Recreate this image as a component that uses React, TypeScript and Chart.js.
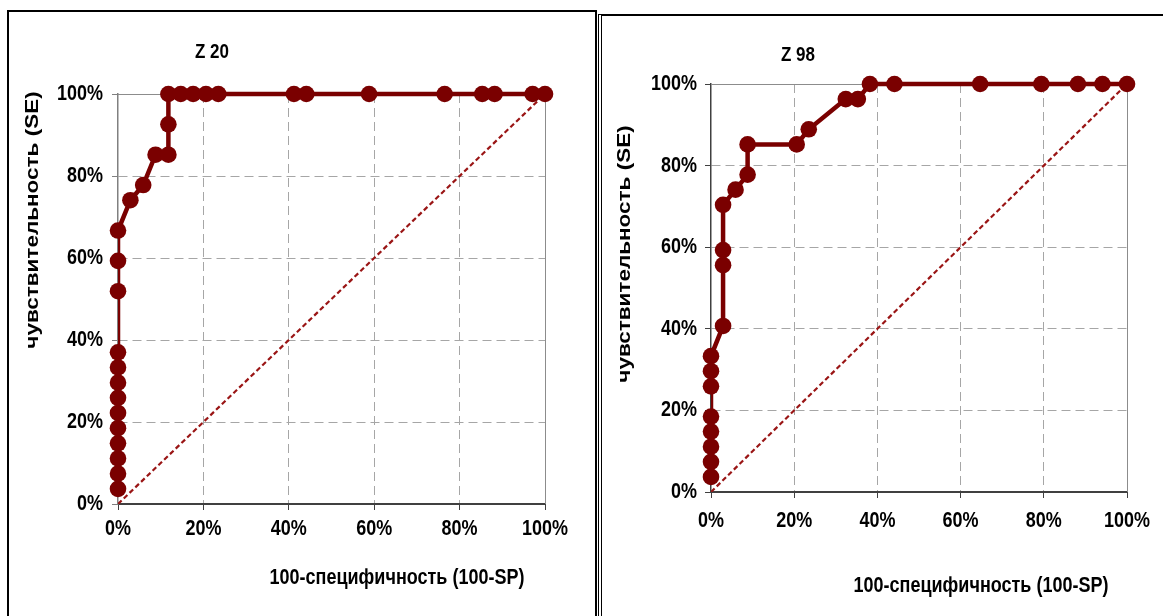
import React, { useEffect, useRef } from "react";
import { Chart, registerables } from "chart.js";

Chart.register(...registerables);

// Axis ticks (percent)
const tickValues = [0, 20, 40, 60, 80, 100];
// Reference diagonal (chance line)
const chanceLine = [0, 100];

// Z 20: 1 - specificity (%) and sensitivity (%)
const z20Fpr = [0, 0, 0, 0, 0, 0, 0, 0, 0, 0, 0, 0, 0, 2.9, 5.9, 8.8, 11.8, 11.8, 11.8, 14.7, 17.6, 20.6, 23.5, 41.2, 44.1, 58.8, 76.5, 85.3, 88.2, 97.1, 100];
const z20Tpr = [3.7, 7.4, 11.1, 14.8, 18.5, 22.2, 25.9, 29.6, 33.3, 37.0, 51.9, 59.3, 66.7, 74.1, 77.8, 85.2, 85.2, 92.6, 100, 100, 100, 100, 100, 100, 100, 100, 100, 100, 100, 100, 100];

// Z 98: 1 - specificity (%) and sensitivity (%)
const z98Fpr = [0, 0, 0, 0, 0, 0, 0, 0, 2.9, 2.9, 2.9, 2.9, 5.9, 8.8, 8.8, 20.6, 23.5, 32.4, 35.3, 38.2, 44.1, 64.7, 79.4, 88.2, 94.1, 100];
const z98Tpr = [3.7, 7.4, 11.1, 14.8, 18.5, 25.9, 29.6, 33.3, 40.7, 55.6, 59.3, 70.4, 74.1, 77.8, 85.2, 85.2, 88.9, 96.3, 96.3, 100, 100, 100, 100, 100, 100, 100];

const FONT = "'Liberation Sans', Arial, sans-serif";
const ROC_COLOR = "#7a0000";
const CHANCE_COLOR = "#9a1515";
const GRID_COLOR = "#a6a6a6";
const TEXT_STRETCH = 1.2;

type Layout = {
  width: number;
  height: number;
  padTop: number;
  padRight: number;
  padBottom: number;
  yAxisWidth: number;
  xAxisHeight: number;
  yAxisColor: string;
  xLabelOffset: number;
  yLabelGap: number;
  title: string;
  titleX: number;
  titleY: number;
  xTitleX: number;
  xTitleY: number;
  yTitleX: number;
  yTitleY: number;
};

function tallText(ctx: CanvasRenderingContext2D, text: string, x: number, y: number) {
  ctx.save();
  ctx.translate(x, y);
  ctx.scale(1, TEXT_STRETCH);
  ctx.fillText(text, 0, 0);
  ctx.restore();
}

// Draws the plot frame (top/right), tick labels and the titles.
const panelDecor = {
  id: "panelDecor",
  beforeDatasetsDraw(chart: any) {
    const { ctx, chartArea: a } = chart;
    ctx.save();
    ctx.strokeStyle = "#8c8c8c";
    ctx.lineWidth = 1;
    ctx.beginPath();
    ctx.moveTo(a.left, Math.round(a.top) + 0.5);
    ctx.lineTo(Math.round(a.right) + 0.5, Math.round(a.top) + 0.5);
    ctx.lineTo(Math.round(a.right) + 0.5, a.bottom);
    ctx.stroke();
    ctx.restore();
  },
  afterDraw(chart: any, _args: any, opts: any) {
    const { ctx, chartArea: a } = chart;
    const xs = chart.scales.x;
    const ys = chart.scales.y;
    ctx.save();
    ctx.fillStyle = "#000";
    ctx.textBaseline = "middle";

    // tick labels
    ctx.font = `bold 18px ${FONT}`;
    ctx.textAlign = "center";
    tickValues.forEach((v) => tallText(ctx, `${v}%`, xs.getPixelForValue(v), a.bottom + opts.xLabelOffset));
    ctx.textAlign = "right";
    tickValues.forEach((v) => tallText(ctx, `${v}%`, a.left - opts.yLabelGap, ys.getPixelForValue(v)));

    // titles
    ctx.textAlign = "center";
    ctx.font = `bold 17px ${FONT}`;
    tallText(ctx, opts.title, opts.titleX, opts.titleY);
    ctx.font = `bold 18px ${FONT}`;
    tallText(ctx, opts.xTitle, opts.xTitleX, opts.xTitleY);
    ctx.translate(opts.yTitleX, opts.yTitleY);
    ctx.rotate(-Math.PI / 2);
    ctx.scale(TEXT_STRETCH + 0.05, 1);
    ctx.fillText(opts.yTitle, 0, 0);
    ctx.restore();
  },
};

function axis(L: Layout, isX: boolean) {
  return {
    type: "linear" as const,
    min: 0,
    max: 100,
    afterBuildTicks: (scale: any) => {
      scale.ticks = tickValues.map((v) => ({ value: v }));
    },
    afterFit: (scale: any) => {
      if (isX) scale.height = L.xAxisHeight;
      else scale.width = L.yAxisWidth;
    },
    ticks: { display: false },
    grid: {
      color: (c: any) =>
        c.tick && (c.tick.value === 0 || c.tick.value === 100) ? "rgba(0,0,0,0)" : GRID_COLOR,
      lineWidth: 1,
      tickLength: 6,
      tickColor: isX ? "#404040" : L.yAxisColor,
      tickWidth: 1,
      drawTicks: true,
    },
    border: {
      display: true,
      color: isX ? "#404040" : L.yAxisColor,
      width: isX ? 2 : 1.5,
      dash: [9, 5],
    },
  };
}

function RocChart({ fpr, tpr, L }: { fpr: number[]; tpr: number[]; L: Layout }) {
  const ref = useRef<HTMLCanvasElement | null>(null);

  useEffect(() => {
    if (!ref.current) return;
    const roc = fpr.map((x, i) => ({ x, y: tpr[i] }));
    const chance = chanceLine.map((v) => ({ x: v, y: v }));
    const chart = new Chart(ref.current, {
      type: "line",
      data: {
        datasets: [
          {
            data: roc,
            showLine: false,
            pointRadius: 8.3,
            pointHoverRadius: 8.3,
            pointBackgroundColor: ROC_COLOR,
            pointBorderWidth: 0,
            clip: false as any,
          },
          {
            data: roc,
            borderColor: ROC_COLOR,
            borderWidth: 4.5,
            pointRadius: 0,
            tension: 0,
            clip: { left: 0, top: false, right: false, bottom: false } as any,
          },
          {
            data: chance,
            borderColor: CHANCE_COLOR,
            borderWidth: 2.2,
            borderDash: [5, 3],
            pointRadius: 0,
          },
        ],
      },
      options: {
        responsive: false,
        animation: false,
        devicePixelRatio: 1,
        events: [],
        layout: {
          autoPadding: false,
          padding: { left: 0, top: L.padTop, right: L.padRight, bottom: L.padBottom },
        },
        scales: {
          x: axis(L, true),
          y: axis(L, false),
        },
        plugins: {
          legend: { display: false },
          tooltip: { enabled: false },
          panelDecor: {
            xLabelOffset: L.xLabelOffset,
            yLabelGap: L.yLabelGap,
            title: L.title,
            titleX: L.titleX,
            titleY: L.titleY,
            xTitle: "100-специфичность (100-SP)",
            xTitleX: L.xTitleX,
            xTitleY: L.xTitleY,
            yTitle: "чувствительность (SE)",
            yTitleX: L.yTitleX,
            yTitleY: L.yTitleY,
          },
        } as any,
      },
      plugins: [panelDecor],
    });
    return () => chart.destroy();
  }, [fpr, tpr, L]);

  return <canvas ref={ref} width={L.width} height={L.height} style={{ width: L.width, height: L.height, display: "block" }} />;
}

const leftLayout: Layout = {
  width: 597,
  height: 616,
  padTop: 94,
  padRight: 52,
  padBottom: 72,
  yAxisWidth: 118,
  xAxisHeight: 40,
  yAxisColor: "#808080",
  xLabelOffset: 25,
  yLabelGap: 15,
  title: "Z 20",
  titleX: 212,
  titleY: 52,
  xTitleX: 397,
  xTitleY: 578,
  yTitleX: 33,
  yTitleY: 220,
};

const rightLayout: Layout = {
  width: 566,
  height: 616,
  padTop: 84,
  padRight: 36,
  padBottom: 84,
  yAxisWidth: 114,
  xAxisHeight: 40,
  yAxisColor: "#404040",
  xLabelOffset: 29,
  yLabelGap: 14,
  title: "Z 98",
  titleX: 201,
  titleY: 55,
  xTitleX: 384,
  xTitleY: 586,
  yTitleX: 28,
  yTitleY: 254,
};

export default function App() {
  return (
    <div style={{ position: "absolute", left: 0, top: 0, width: 1163, height: 616, overflow: "hidden", background: "#fff" }}>
      <div style={{ position: "absolute", left: 0, top: 0 }}>
        <RocChart fpr={z20Fpr} tpr={z20Tpr} L={leftLayout} />
      </div>
      <div style={{ position: "absolute", left: 597, top: 0 }}>
        <RocChart fpr={z98Fpr} tpr={z98Tpr} L={rightLayout} />
      </div>
      <div
        style={{
          position: "absolute",
          left: 7,
          top: 10,
          width: 590,
          height: 640,
          boxSizing: "border-box",
          border: "2px solid #000",
          pointerEvents: "none",
        }}
      />
      <div
        style={{
          position: "absolute",
          left: 598,
          top: 14,
          width: 600,
          height: 640,
          boxSizing: "border-box",
          borderTop: "2px solid #000",
          borderLeft: "4px double #000",
          pointerEvents: "none",
        }}
      />
    </div>
  );
}
